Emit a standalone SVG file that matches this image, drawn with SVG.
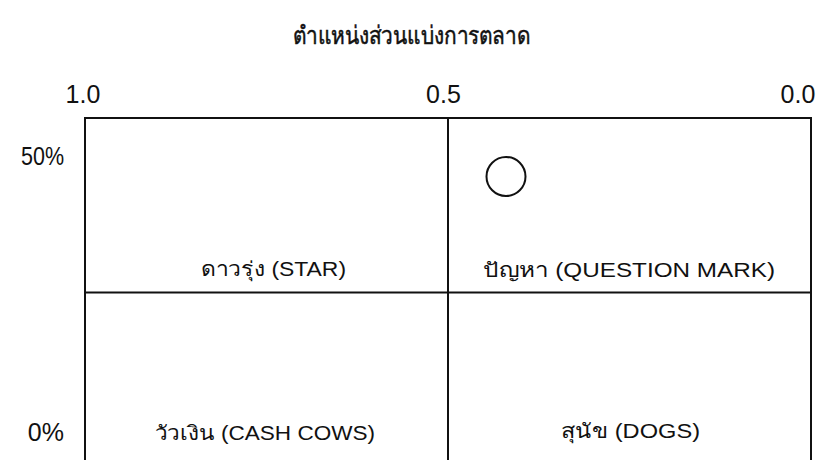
<svg xmlns="http://www.w3.org/2000/svg" width="818" height="460" viewBox="0 0 818 460">
<style>
.t{font-family:"Liberation Sans","Noto Sans",sans-serif;fill:#111}
.num{font-size:25px}
.lab{font-size:20px}
.ln{stroke:#111;stroke-width:2;fill:none}
</style>
<rect width="818" height="460" fill="#fff"/>
<g id="title"><text class="t" x="411.5" y="44" font-size="25" text-anchor="middle" stroke="#111" stroke-width="0.5" textLength="237" lengthAdjust="spacingAndGlyphs">ตำแหน่งส่วนแบ่งการตลาด</text></g>
<g id="axis-labels">
<text class="t num" x="83" y="103" text-anchor="middle">1.0</text>
<text class="t num" x="443.5" y="103" text-anchor="middle">0.5</text>
<text class="t num" x="798" y="103" text-anchor="middle">0.0</text>
<text class="t num" x="64" y="165" text-anchor="end" textLength="43" lengthAdjust="spacingAndGlyphs">50%</text>
<text class="t num" x="64" y="441" text-anchor="end">0%</text>
</g>
<g id="grid">
<path class="ln" d="M85,470 V118 H811 V470"/>
<path class="ln" d="M448,118 V470"/>
<path class="ln" d="M85,292.5 H811"/>
</g>
<g id="star"><text class="t lab" x="273.5" y="276" text-anchor="middle" textLength="145" lengthAdjust="spacingAndGlyphs">ดาวรุ่ง (STAR)</text></g>
<g id="question-mark"><text class="t lab" x="629" y="277" text-anchor="middle" textLength="292" lengthAdjust="spacingAndGlyphs">ปัญหา (QUESTION MARK)</text>
<circle cx="506" cy="176.5" r="19.5" class="ln" stroke-width="1.8"/></g>
<g id="cash-cows"><text class="t lab" x="265" y="440" text-anchor="middle" textLength="220" lengthAdjust="spacingAndGlyphs">วัวเงิน (CASH COWS)</text></g>
<g id="dogs"><text class="t lab" x="630.5" y="438" text-anchor="middle" textLength="139" lengthAdjust="spacingAndGlyphs">สุนัข (DOGS)</text></g>
</svg>
